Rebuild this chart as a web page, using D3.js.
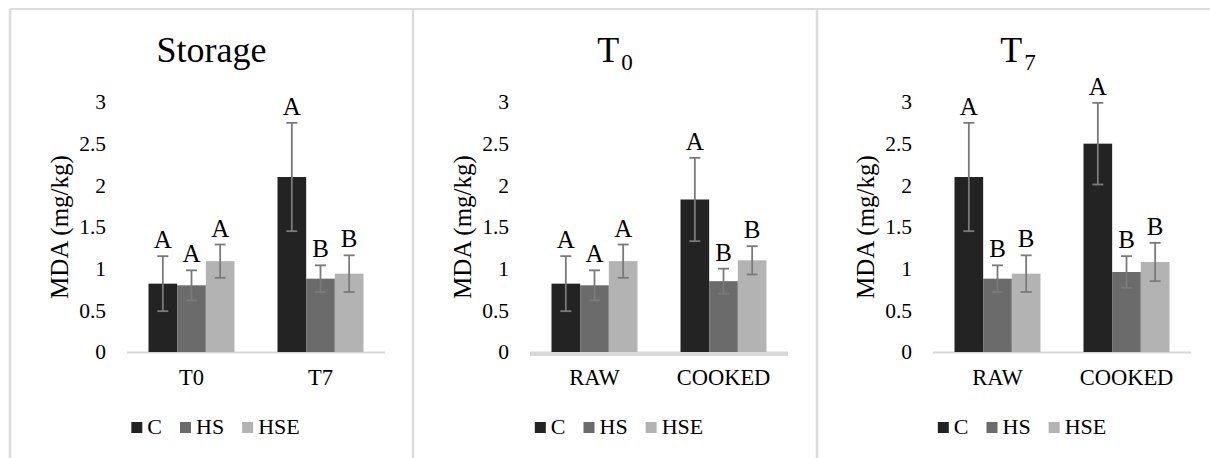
<!DOCTYPE html>
<html>
<head>
<meta charset="utf-8">
<script src="https://cdn.jsdelivr.net/npm/d3@7"></script>
<style>
  html, body { margin: 0; padding: 0; background: #ffffff; }
  svg, svg text { font-family: "Liberation Serif", "Times New Roman", serif !important; }
</style>
</head>
<body>
<svg id="chart" width="1210" height="458"></svg>
<script>
// ---- data ----
const seriesNames = ["C", "HS", "HSE"];
const seriesColors = ["#232323", "#6b6b6b", "#b3b3b3"];
const yTicks = [0, 0.5, 1, 1.5, 2, 2.5, 3];
const yLabel = "MDA (mg/kg)";

// Panel 1: Storage
const storageCategories = ["T0", "T7"];
const storageMeans = [[0.82, 0.80, 1.09], [2.10, 0.88, 0.94]];
const storageErrors = [[0.33, 0.18, 0.20], [0.65, 0.16, 0.22]];
const storageLetters = [["A", "A", "A"], ["A", "B", "B"]];

// Panel 2: T0
const t0Categories = ["RAW", "COOKED"];
const t0Means = [[0.82, 0.80, 1.09], [1.83, 0.85, 1.10]];
const t0Errors = [[0.33, 0.18, 0.20], [0.50, 0.15, 0.17]];
const t0Letters = [["A", "A", "A"], ["A", "B", "B"]];

// Panel 3: T7
const t7Categories = ["RAW", "COOKED"];
const t7Means = [[2.10, 0.88, 0.94], [2.50, 0.96, 1.08]];
const t7Errors = [[0.65, 0.16, 0.22], [0.49, 0.19, 0.23]];
const t7Letters = [["A", "B", "B"], ["A", "B", "B"]];

const panels = [
  { title: "Storage", sub: null, cats: storageCategories, means: storageMeans, errs: storageErrors, letters: storageLetters,
    left: 10, right: 413, plotL: 127, plotR: 385, base: 2 },
  { title: "T", sub: "0", cats: t0Categories, means: t0Means, errs: t0Errors, letters: t0Letters,
    left: 413, right: 817, plotL: 530, plotR: 788, base: 4.5 },
  { title: "T", sub: "7", cats: t7Categories, means: t7Means, errs: t7Errors, letters: t7Letters,
    left: 817, right: 1219, plotL: 933, plotR: 1191, base: 2 }
];

const svg = d3.select("#chart");
const borderColor = "#dcdcdc";

// outer frame lines
svg.append("line").attr("x1", 10).attr("x2", 1210).attr("y1", 9).attr("y2", 9)
  .attr("stroke", borderColor).attr("stroke-width", 2);
[10, 413, 817].forEach(x => {
  svg.append("line").attr("x1", x).attr("x2", x).attr("y1", 9).attr("y2", 458)
    .attr("stroke", borderColor).attr("stroke-width", 2.5);
});

const y = d3.scaleLinear().domain([0, 3]).range([352, 102]);

panels.forEach(p => {
  const g = svg.append("g");
  const center = (p.left + p.right) / 2;

  // title
  const t = g.append("text").attr("x", center).attr("y", 62)
    .attr("text-anchor", "middle").attr("font-size", 36).attr("fill", "#000")
    .text(p.title);
  if (p.sub) {
    t.text(null);
    t.append("tspan").text(p.title);
    t.append("tspan").attr("font-size", 23).attr("dy", 7.5).attr("dx", 2).text(p.sub);
  }

  // y axis (labels only)
  const yAxis = d3.axisLeft(y).tickValues(yTicks).tickSize(0).tickPadding(21)
    .tickFormat(d3.format("~g"));
  const ya = g.append("g").attr("transform", `translate(${p.plotL},0)`).call(yAxis);
  ya.attr("font-family", null).attr("font-size", null);
  ya.select(".domain").remove();
  ya.selectAll("text").attr("font-size", 21.5).attr("fill", "#000");

  // y label
  g.append("text")
    .attr("transform", `translate(${p.plotL - 68},${(y(0) + y(3)) / 2}) rotate(-90)`)
    .attr("text-anchor", "middle").attr("dy", "0.35em")
    .attr("font-size", 25).attr("fill", "#000").text(yLabel);

  // scales
  const x0 = d3.scaleBand().domain(p.cats).range([p.plotL, p.plotR])
    .paddingInner(1 / 3).paddingOuter(1 / 6);
  const x1 = d3.scaleBand().domain(seriesNames).range([0, x0.bandwidth()]);

  // baseline
  g.append("line").attr("x1", p.plotL).attr("x2", p.plotR)
    .attr("y1", y(0) + p.base / 2 - 0.5).attr("y2", y(0) + p.base / 2 - 0.5)
    .attr("stroke", "#d9d9d9").attr("stroke-width", p.base);

  // x labels
  const xAxis = d3.axisBottom(x0).tickSize(0).tickPadding(0);
  const xa = g.append("g").attr("transform", `translate(0,${y(0)})`).call(xAxis);
  xa.attr("font-family", null).attr("font-size", null);
  xa.select(".domain").remove();
  xa.selectAll("text").attr("font-size", 22.5)
    .attr("fill", "#000").attr("y", 33).attr("dy", 0);

  p.cats.forEach((cat, ci) => {
    seriesNames.forEach((s, si) => {
      const m = p.means[ci][si], e = p.errs[ci][si];
      const bx = x0(cat) + x1(s), bw = x1.bandwidth();
      g.append("rect").attr("x", bx).attr("y", y(m)).attr("width", bw).attr("height", y(0) - y(m))
        .attr("fill", seriesColors[si]);
      const cx = bx + bw / 2;
      const eg = g.append("g").attr("stroke", "#7a7a7a").attr("stroke-width", 1.8);
      eg.append("line").attr("x1", cx).attr("x2", cx).attr("y1", y(m + e)).attr("y2", y(m - e));
      eg.append("line").attr("x1", cx - 5.5).attr("x2", cx + 5.5).attr("y1", y(m + e)).attr("y2", y(m + e));
      eg.append("line").attr("x1", cx - 5.5).attr("x2", cx + 5.5).attr("y1", y(m - e)).attr("y2", y(m - e));
      g.append("text").attr("x", cx).attr("y", y(m + e) - 8).attr("text-anchor", "middle")
        .attr("font-size", 25).attr("fill", "#000").text(p.letters[ci][si]);
    });
  });

  // legend
  const lg = g.append("g");
  let xpos = 0;
  seriesNames.forEach((s, si) => {
    lg.append("rect").attr("x", xpos).attr("y", 422).attr("width", 11).attr("height", 11)
      .attr("fill", seriesColors[si]);
    const tx = lg.append("text").attr("x", xpos + 16).attr("y", 434).attr("font-size", 22)
      .attr("fill", "#000").text(s);
    xpos += 16 + tx.node().getComputedTextLength() + 18;
  });
  const total = xpos - 18;
  lg.attr("transform", `translate(${center + 4 - total / 2},0)`);
});
</script>
</body>
</html>
